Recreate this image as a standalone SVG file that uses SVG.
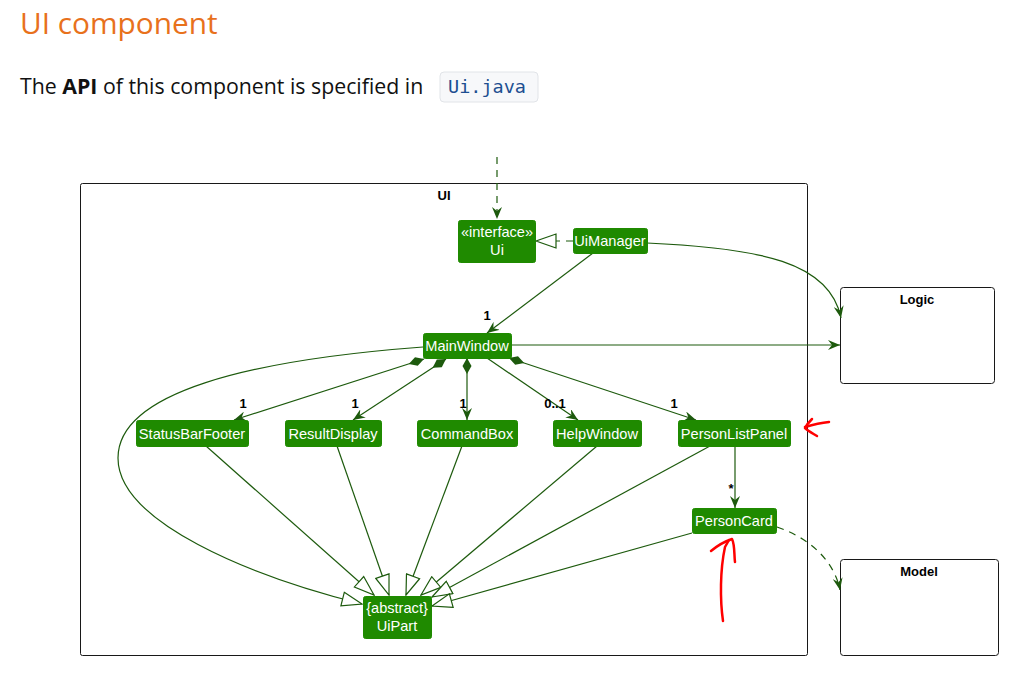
<svg xmlns="http://www.w3.org/2000/svg" width="1016" height="678" viewBox="0 0 1016 678">
<style>
.title{font-family:"Open Sans","Noto Sans",sans-serif;font-size:29.8px;fill:#E8711C}
.para{font-family:"Open Sans","Noto Sans",sans-serif;font-size:21.3px;fill:#111}
.code{font-family:"DejaVu Sans Mono","Liberation Mono",monospace;font-size:18.5px;fill:#1d4f91}
.node rect{fill:#1F8A00;stroke:#1F8A00}
.node text{font-family:"Liberation Sans",Arial,sans-serif;font-size:14.6px;fill:#fff;text-anchor:middle}
.pkg{fill:none;stroke:#181818;stroke-width:1}
.pkgl{font-family:"Liberation Sans",Arial,sans-serif;font-size:13px;font-weight:bold;fill:#000;text-anchor:middle}
.ln{fill:none;stroke:#1d5a0d;stroke-width:1.2}
.dash{stroke-dasharray:7 6}
.lbl{font-family:"Liberation Sans",Arial,sans-serif;font-size:13px;font-weight:bold;fill:#000;text-anchor:middle}
.red{fill:none;stroke:#f00;stroke-width:2.5;stroke-linecap:round;stroke-linejoin:round}
</style>
<defs>
<marker id="arr" viewBox="0 0 12 10" refX="12" refY="5" markerWidth="12" markerHeight="10" orient="auto" markerUnits="userSpaceOnUse"><path d="M0,0 L12,5 L0,10 L4,5 Z" fill="#1d5a0d"/></marker>
<marker id="gen" viewBox="0 0 22 16" refX="21" refY="8" markerWidth="22" markerHeight="16" orient="auto" markerUnits="userSpaceOnUse"><path d="M1,1 L21,8 L1,15 Z" fill="#fff" stroke="#1d5a0d" stroke-width="1.2"/></marker>
<marker id="dia" viewBox="0 0 16 10" refX="0" refY="5" markerWidth="16" markerHeight="10" orient="auto" markerUnits="userSpaceOnUse"><path d="M0,5 L8,0.5 L16,5 L8,9.5 Z" fill="#1d5a0d"/></marker>
</defs>
<rect width="1016" height="678" fill="#fff"/>
<text class="title" x="20" y="34">UI component</text>
<text class="para" x="20" y="94">The <tspan font-weight="bold">API</tspan> of this component is specified in</text>
<rect x="440" y="72" width="98" height="30" rx="4" fill="#f7f8fa" stroke="#e1e4e8"/>
<text class="code" x="448" y="93">Ui.java</text>

<g id="UI-package"><rect class="pkg" x="80.5" y="183.5" width="727" height="472" rx="2"/><text class="pkgl" x="444" y="200">UI</text></g>
<g id="Logic"><rect class="pkg" x="840.5" y="287.5" width="154" height="96" rx="3"/><text class="pkgl" x="917" y="304">Logic</text></g>
<g id="Model"><rect class="pkg" x="840.5" y="559.5" width="158" height="96" rx="3"/><text class="pkgl" x="919" y="576">Model</text></g>

<g id="connectors">
<path class="ln dash" d="M497,157 L497,219" marker-end="url(#arr)"/>
<path class="ln dash" d="M573,241 L536,241" marker-end="url(#gen)"/>
<path class="ln" d="M593,253 L487,333" marker-end="url(#arr)"/>
<text class="lbl" x="487" y="320">1</text>
<path class="ln" d="M647,243 C760,248 830,262 841,318" marker-end="url(#arr)"/>
<path class="ln" d="M511,345 L840,345" marker-end="url(#arr)"/>
<path class="ln" d="M424,359 L234,420" marker-start="url(#dia)" marker-end="url(#arr)"/>
<text class="lbl" x="243" y="408">1</text>
<path class="ln" d="M446,359 L353,420" marker-start="url(#dia)" marker-end="url(#arr)"/>
<text class="lbl" x="355" y="408">1</text>
<path class="ln" d="M467,358 L467,420" marker-start="url(#dia)" marker-end="url(#arr)"/>
<text class="lbl" x="463" y="408">1</text>
<path class="ln" d="M487,358 L578,420" marker-end="url(#arr)"/>
<text class="lbl" x="555" y="408">0..1</text>
<path class="ln" d="M509,358 L696,420" marker-start="url(#dia)" marker-end="url(#arr)"/>
<text class="lbl" x="674" y="408">1</text>
<path class="ln" d="M735,446 L735,508" marker-end="url(#arr)"/>
<text class="lbl" x="731" y="493">*</text>
<path class="ln dash" d="M777,527 C815,540 835,565 840,590" marker-end="url(#arr)"/>
<path class="ln" d="M423,347 C250,360 118,392 118,458 C118,522 250,576 362,604" marker-end="url(#gen)"/>
<path class="ln" d="M206,446 L374,595" marker-end="url(#gen)"/>
<path class="ln" d="M337,446 L389,595" marker-end="url(#gen)"/>
<path class="ln" d="M462,446 L406,595" marker-end="url(#gen)"/>
<path class="ln" d="M597,446 L421,595" marker-end="url(#gen)"/>
<path class="ln" d="M710,446 L432,597" marker-end="url(#gen)"/>
<path class="ln" d="M692,533 L432,606" marker-end="url(#gen)"/>
</g>

<g id="Ui" class="node"><rect x="458.5" y="220.5" width="77" height="42" rx="2"/><text x="497" y="237">«interface»</text><text x="497" y="255">Ui</text></g>
<g id="UiManager" class="node"><rect x="573.5" y="228.5" width="74" height="25" rx="2"/><text x="610" y="246">UiManager</text></g>
<g id="MainWindow" class="node"><rect x="423.5" y="333.5" width="88" height="25" rx="2"/><text x="467" y="351">MainWindow</text></g>
<g id="StatusBarFooter" class="node"><rect x="136.5" y="420.5" width="112" height="26" rx="2"/><text x="192" y="439">StatusBarFooter</text></g>
<g id="ResultDisplay" class="node"><rect x="285.5" y="420.5" width="96" height="26" rx="2"/><text x="333" y="439">ResultDisplay</text></g>
<g id="CommandBox" class="node"><rect x="417.5" y="420.5" width="100" height="26" rx="2"/><text x="467" y="439">CommandBox</text></g>
<g id="HelpWindow" class="node"><rect x="553.5" y="420.5" width="88" height="26" rx="2"/><text x="597" y="439">HelpWindow</text></g>
<g id="PersonListPanel" class="node"><rect x="678.5" y="420.5" width="112" height="26" rx="2"/><text x="734" y="439">PersonListPanel</text></g>
<g id="PersonCard" class="node"><rect x="692.5" y="508.5" width="84" height="25" rx="2"/><text x="734" y="526">PersonCard</text></g>
<g id="UiPart" class="node"><rect x="363.5" y="596.5" width="68" height="42" rx="2"/><text x="397" y="613">{abstract}</text><text x="397" y="631">UiPart</text></g>

<g id="annotations">
<path class="red" d="M829,422 C820,423 812,425 805,427"/>
<path class="red" d="M812,419 C809,422 807,424 805,428 C808,431 812,433 817,436"/>
<path class="red" d="M723,621 C720,600 720,570 725,547 L729,540"/>
<path class="red" d="M711,551 C717,546 723,542 732,539 C735,545 734,555 735,562"/>
</g>
</svg>
